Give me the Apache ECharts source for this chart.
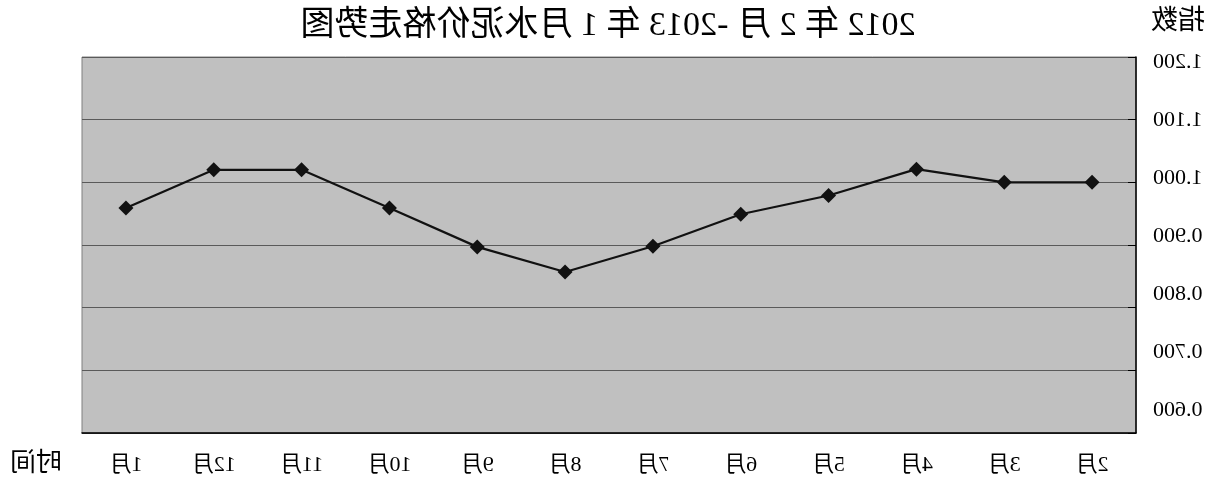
<!DOCTYPE html>
<html>
<head>
<meta charset="utf-8">
<script src="https://cdn.jsdelivr.net/npm/echarts@6/dist/echarts.min.js"></script>
<style>
html,body{margin:0;padding:0;background:#fff;}
#c{width:1216px;height:484px;transform:scaleX(-1);}
</style>
</head>
<body>
<div id="c"></div>
<script>
const months = ['2月','3月','4月','5月','6月','7月','8月','9月','10月','11月','12月','1月'];
const priceIndex = [1.000, 1.000, 1.021, 0.979, 0.949, 0.898, 0.857, 0.897, 0.959, 1.020, 1.020, 0.959];
const yTicks = {min: 0.6, max: 1.2, step: 0.1};
const titleText = '2012 年 2 月 -2013 年 1 月水泥价格走势图';
const yName = '指数';
const xName = '时间';

const FONT = "'Liberation Serif', 'DejaVu Serif', 'Noto Sans CJK SC', serif";
const chart = echarts.init(document.getElementById('c'));
chart.setOption({
  animation: false,
  title: {
    text: titleText, left: 'center', top: 4,
    textStyle: {fontFamily: FONT, fontSize: 34, fontWeight: 'normal', color: '#000'}
  },
  graphic: [
    {type: 'text', left: 11, top: 8, style: {text: yName, font: "27px " + FONT, fill: '#000'}},
    {type: 'text', left: 1154, top: 451, style: {text: xName, font: "26px " + FONT, fill: '#000'}}
  ],
  grid: [
    {left: 80, right: 82, top: 57, bottom: 51,
     show: true, backgroundColor: '#c0c0c0', borderColor: '#808080', borderWidth: 1},
    {left: 80, right: 82, top: 62, bottom: 74, show: false}
  ],
  xAxis: [{
    type: 'category', data: months, boundaryGap: true, gridIndex: 0,
    axisLine: {lineStyle: {color: '#000', width: 1.5}},
    axisTick: {inside: true, length: 9, lineStyle: {color: '#000'}},
    axisLabel: {fontFamily: FONT, fontSize: 22, color: '#000', margin: 21, interval: 0}
  }, {
    type: 'category', data: months, gridIndex: 1, show: false
  }],
  yAxis: [{
    type: 'value', min: yTicks.min, max: yTicks.max, interval: yTicks.step, gridIndex: 0,
    axisLine: {show: true, lineStyle: {color: '#000', width: 1.5}},
    axisTick: {show: true, inside: true, length: 8, lineStyle: {color: '#000'}},
    axisLabel: {show: false},
    splitLine: {show: true, lineStyle: {color: '#5a5a5a', width: 1.2}}
  }, {
    type: 'value', min: yTicks.min, max: yTicks.max, interval: yTicks.step, gridIndex: 1,
    axisLine: {show: false}, axisTick: {show: false}, splitLine: {show: false},
    axisLabel: {fontFamily: FONT, fontSize: 22, color: '#000', margin: 17,
      formatter: v => v.toFixed(3)}
  }],
  series: [{
    type: 'line', data: priceIndex, xAxisIndex: 0, yAxisIndex: 0,
    symbol: 'diamond', symbolSize: 15,
    lineStyle: {color: '#111', width: 2.2},
    itemStyle: {color: '#111'}
  }]
});
</script>
</body>
</html>
